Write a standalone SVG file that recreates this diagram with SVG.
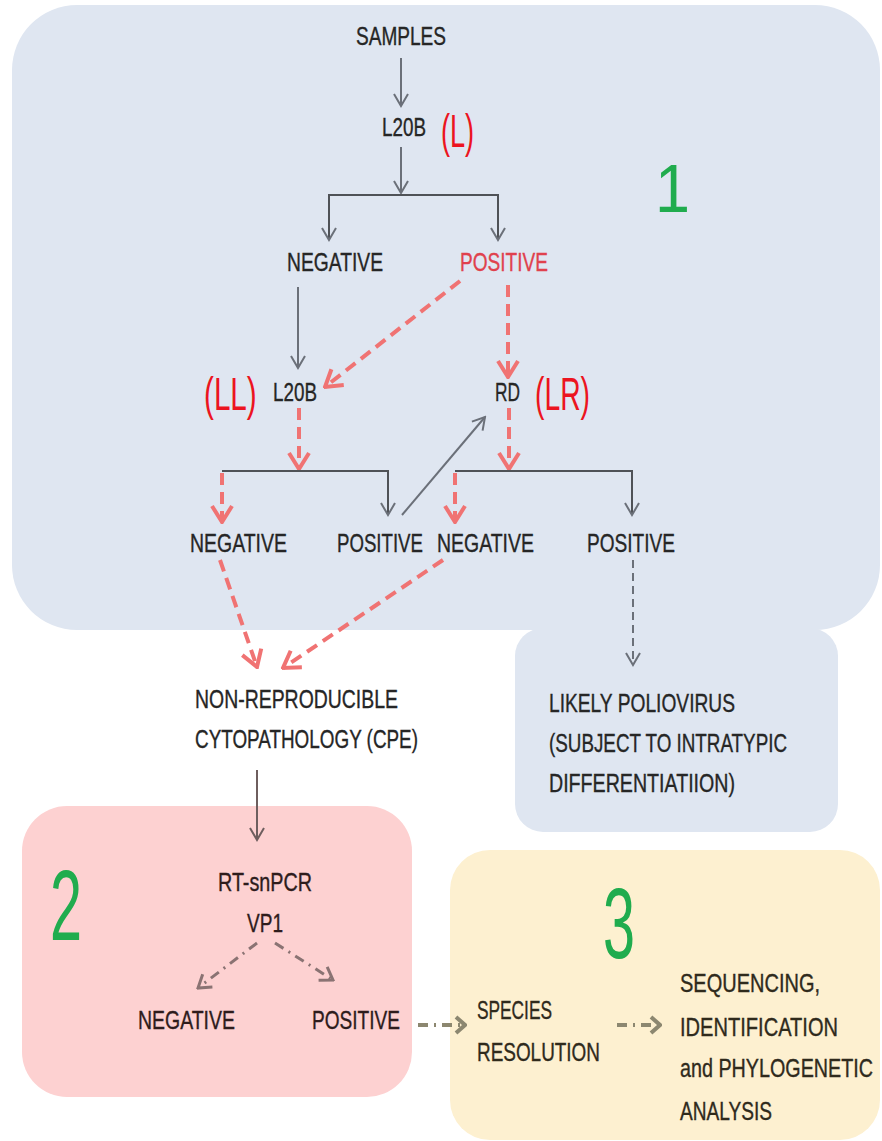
<svg xmlns="http://www.w3.org/2000/svg" width="882" height="1141" viewBox="0 0 882 1141">
<style>
.t{font-family:"Liberation Sans",Arial,sans-serif;font-size:25px;fill:#262626;stroke:#262626;stroke-width:0.35}
.tr{font-family:"Liberation Sans",Arial,sans-serif;font-size:25px;fill:#2e1c1c;stroke:#2e1c1c;stroke-width:0.35}
.ty{font-family:"Liberation Sans",Arial,sans-serif;font-size:25px;fill:#2f2a1c;stroke:#2f2a1c;stroke-width:0.35}
.red{font-family:"Liberation Sans",Arial,sans-serif;font-size:46px;fill:#EC1420}
.pos{fill:#E0414D;stroke:#E0414D}
.num{font-family:"Liberation Sans",Arial,sans-serif;fill:#20AC4E}
.g{fill:none;stroke:#6B7079;stroke-width:2}
.gd{fill:none;stroke:#4F5257;stroke-width:2}
.gdash{fill:none;stroke:#6B7079;stroke-width:2;stroke-dasharray:8 5}
.rd{fill:none;stroke:#F07373;stroke-width:4;stroke-dasharray:12 7}
.br{fill:none;stroke:#6E5E5E;stroke-width:2}
.brd{fill:none;stroke:#8A7373;stroke-width:3;stroke-dasharray:10 6 2 6}
.ol{fill:none;stroke:#8C8770;stroke-width:4;stroke-dasharray:10 6 2 6}
</style>
<defs>
<marker id="mG" viewBox="-14 -9 16 18" markerWidth="16" markerHeight="18" refX="0" refY="0" orient="auto" markerUnits="userSpaceOnUse"><path d="M-12,-7 L0,0 L-12,7" fill="none" stroke="#6B7079" stroke-width="2"/></marker>
<marker id="mR" viewBox="-20 -12 22 24" markerWidth="22" markerHeight="24" refX="0" refY="0" orient="auto" markerUnits="userSpaceOnUse"><path d="M-16,-10 L0,0 L-16,10" fill="none" stroke="#F07373" stroke-width="4"/></marker>
<marker id="mB" viewBox="-14 -9 16 18" markerWidth="16" markerHeight="18" refX="0" refY="0" orient="auto" markerUnits="userSpaceOnUse"><path d="M-12,-7 L0,0 L-12,7" fill="none" stroke="#6E5E5E" stroke-width="2"/></marker>
<marker id="mBd" viewBox="-16 -10 18 20" markerWidth="18" markerHeight="20" refX="0" refY="0" orient="auto" markerUnits="userSpaceOnUse"><path d="M-12,-8 L0,0 L-12,8" fill="none" stroke="#8A7373" stroke-width="3"/></marker>
<marker id="mO" viewBox="-14 -10 16 20" markerWidth="16" markerHeight="20" refX="0" refY="0" orient="auto" markerUnits="userSpaceOnUse"><path d="M-9,-8 L0,0 L-9,8" fill="none" stroke="#8C8770" stroke-width="4"/></marker>
</defs>

<g id="backgrounds">
<rect x="12" y="5" width="868" height="625" rx="65" fill="#DFE6F1"/>
<rect x="515" y="628" width="323" height="204" rx="28" fill="#DFE6F1"/>
<rect x="22" y="806" width="390" height="291" rx="45" fill="#FDD1D1"/>
<rect x="450" y="850" width="430" height="290" rx="40" fill="#FDF0D0"/>
</g>

<g id="connectors">
<path class="g" d="M401,58 V106" marker-end="url(#mG)"/>
<path class="g" d="M401,147 V193" marker-end="url(#mG)"/>
<path class="gd" d="M401,195 H329 V240" marker-end="url(#mG)"/>
<path class="gd" d="M401,195 H498 V240" marker-end="url(#mG)"/>
<path class="g" d="M298,287 V368" marker-end="url(#mG)"/>
<path class="rd" d="M460,281 L325,387" marker-end="url(#mR)"/>
<path class="rd" d="M508,285 V377" marker-end="url(#mR)"/>
<path class="rd" d="M299,408 V469" marker-end="url(#mR)"/>
<path class="rd" d="M509,408 V469" marker-end="url(#mR)"/>
<path class="gd" d="M222,471 H388 V515" marker-end="url(#mG)"/>
<path class="gd" d="M455,471 H632 V515" marker-end="url(#mG)"/>
<path class="rd" d="M222,473 V522" marker-end="url(#mR)"/>
<path class="rd" d="M455,473 V522" marker-end="url(#mR)"/>
<path class="g" d="M402,515 L485,417" marker-end="url(#mG)"/>
<path class="rd" d="M220,560 L257,667" marker-end="url(#mR)"/>
<path class="rd" d="M443,560 L283,668" marker-end="url(#mR)"/>
<path class="gdash" d="M633,560 V665" marker-end="url(#mG)"/>
<path class="br" d="M257,770 V840" marker-end="url(#mB)"/>
<path class="brd" d="M257,943 L198,988" marker-end="url(#mBd)"/>
<path class="brd" d="M275,943 L333,980" marker-end="url(#mBd)"/>
<path class="ol" d="M418,1025 H465" marker-end="url(#mO)"/>
<path class="ol" d="M617,1025 H660" marker-end="url(#mO)"/>
</g>

<g id="stage-numbers">
<text class="num" x="655" y="212" font-size="68" textLength="35" lengthAdjust="spacingAndGlyphs">1</text>
<text class="num" x="50" y="940" font-size="100" textLength="32" lengthAdjust="spacingAndGlyphs">2</text>
<text class="num" x="603" y="958" font-size="100" textLength="32" lengthAdjust="spacingAndGlyphs">3</text>
</g>

<g id="n-samples"><text class="t" x="356" y="45" textLength="90" lengthAdjust="spacingAndGlyphs">SAMPLES</text></g>
<g id="n-l20b-1">
<text class="t" x="382" y="136" textLength="44" lengthAdjust="spacingAndGlyphs">L20B</text>
<text class="red" transform="translate(441,147) scale(0.59,1)">(L)</text>
</g>
<g id="n-neg-1"><text class="t" x="287" y="271" textLength="96" lengthAdjust="spacingAndGlyphs">NEGATIVE</text></g>
<g id="n-pos-1"><text class="t pos" x="460" y="271" textLength="88" lengthAdjust="spacingAndGlyphs">POSITIVE</text></g>
<g id="n-l20b-2">
<text class="t" x="273" y="401" textLength="44" lengthAdjust="spacingAndGlyphs">L20B</text>
<text class="red" transform="translate(204,410) scale(0.645,1)">(LL)</text>
</g>
<g id="n-rd">
<text class="t" x="495" y="401" textLength="25" lengthAdjust="spacingAndGlyphs">RD</text>
<text class="red" transform="translate(535,410) scale(0.615,1)">(LR)</text>
</g>
<g id="n-neg-ll"><text class="t" x="190" y="552" textLength="97" lengthAdjust="spacingAndGlyphs">NEGATIVE</text></g>
<g id="n-pos-ll"><text class="t" transform="translate(337,552) scale(0.746,1)">POSITIVE</text></g>
<g id="n-neg-lr"><text class="t" x="437" y="552" textLength="97" lengthAdjust="spacingAndGlyphs">NEGATIVE</text></g>
<g id="n-pos-lr"><text class="t" x="587" y="552" textLength="88" lengthAdjust="spacingAndGlyphs">POSITIVE</text></g>
<g id="n-cpe">
<text class="t" x="195" y="708" textLength="203" lengthAdjust="spacingAndGlyphs">NON-REPRODUCIBLE</text>
<text class="t" x="195" y="748" textLength="223" lengthAdjust="spacingAndGlyphs">CYTOPATHOLOGY (CPE)</text>
</g>
<g id="n-polio">
<text class="t" x="549" y="712" textLength="186" lengthAdjust="spacingAndGlyphs">LIKELY POLIOVIRUS</text>
<text class="t" x="549" y="752" textLength="238" lengthAdjust="spacingAndGlyphs">(SUBJECT TO INTRATYPIC</text>
<text class="t" x="549" y="792" textLength="186" lengthAdjust="spacingAndGlyphs">DIFFERENTIATIION)</text>
</g>
<g id="n-pcr">
<text class="tr" x="218" y="891" textLength="94" lengthAdjust="spacingAndGlyphs">RT-snPCR</text>
<text class="tr" x="247" y="932" textLength="36" lengthAdjust="spacingAndGlyphs">VP1</text>
</g>
<g id="n-pcr-neg"><text class="tr" x="138" y="1029" textLength="97" lengthAdjust="spacingAndGlyphs">NEGATIVE</text></g>
<g id="n-pcr-pos"><text class="tr" x="312" y="1029" textLength="88" lengthAdjust="spacingAndGlyphs">POSITIVE</text></g>
<g id="n-species">
<text class="ty" x="477" y="1019" textLength="75" lengthAdjust="spacingAndGlyphs">SPECIES</text>
<text class="ty" x="477" y="1061" textLength="123" lengthAdjust="spacingAndGlyphs">RESOLUTION</text>
</g>
<g id="n-seq">
<text class="ty" x="680" y="992" textLength="140" lengthAdjust="spacingAndGlyphs">SEQUENCING,</text>
<text class="ty" x="680" y="1036" textLength="158" lengthAdjust="spacingAndGlyphs">IDENTIFICATION</text>
<text class="ty" transform="translate(680,1077) scale(0.79,1)">and PHYLOGENETIC</text>
<text class="ty" x="680" y="1120" textLength="92" lengthAdjust="spacingAndGlyphs">ANALYSIS</text>
</g>
</svg>
